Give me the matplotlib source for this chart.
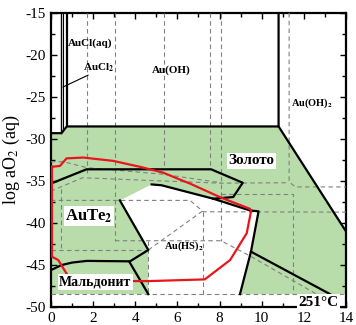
import numpy as np
import matplotlib.pyplot as plt

plt.rcParams['font.family'] = ['Liberation Serif', 'DejaVu Serif']
plt.rcParams['mathtext.fontset'] = 'stix'
plt.rcParams['axes.unicode_minus'] = False

# поле золота (зелёное), pH - log aO2
gold_x = [0, 0.5, 0.75, 10.8, 14, 14, 0]
gold_y = [-29.3, -29.3, -28.5, -28.5, -41, -48.45, -48.45]

# поле Au(HS)2 (белое)
hs_x = [3.27, 4.78, 5.25, 7.7, 9.45, 9.85, 9.49, 8.97, 4.62, 4.62]
hs_y = [-37.3, -35.4, -35.5, -37.1, -38.5, -38.6, -43.4, -48.45, -48.45, -43.2]

# сплошные границы
top_x = [0, 0.5, 0.75, 10.8, 10.8]
top_y = [-29.3, -29.3, -28.5, -28.5, -15]
oh2_x = [10.8, 14]
oh2_y = [-28.5, -41]
cl_x = [0.475, 0.585, 0.745]
cl_bottom = [-29.3, -29.1, -28.5]
aute_x = [0, 1.69, 7.6, 9.1, 8.65, 7.7]
aute_y = [-35.3, -33.6, -33.6, -35.2, -36.9, -37.1]
hs_left_x = [3.27, 4.62, 3.72, 4.62]
hs_left_y = [-37.3, -43.2, -44.6, -48.45]
mald_x = [0, 0.5, 1.0, 1.7, 3.72]
mald_y = [-45.6, -45.0, -44.7, -44.5, -44.55]
low_x = [9.49, 13.24]
low_y = [-43.4, -48.45]

# красная линия
red_x = [0.05, 0.43, 0.74, 1.53, 2.96, 4.22, 5.33, 6.1, 6.6, 8.1, 9.44, 9.5,
         9.29, 8.5, 7.3, 4.7, 1.0, 0.74, 0.35, 0.05, 0.05]
red_y = [-33.3, -33.2, -32.3, -32.2, -32.6, -33.3, -34.0, -34.8, -35.3, -37.0, -38.3, -38.5,
         -41.2, -44.4, -46.7, -46.9, -46.9, -46.0, -44.4, -44.0, -33.3]

# пунктир (второй вариант диаграммы)
dashed = [
    ([1.72, 1.72], [-15, -34.4]),
    ([3.04, 3.04], [-15, -42.1]),
    ([5.36, 5.36], [-15, -33.6]),
    ([7.55, 7.55], [-15, -33.6]),
    ([8.07, 8.07], [-15, -42.1]),
    ([11.3, 11.3, 11.6, 14], [-15, -35.1, -35.7, -35.7]),
    ([0, 1.5, 4.4, 8.07, 11.3], [-36.2, -34.6, -34.9, -35.25, -35.2]),
    ([0, 0.6, 1.7, 5.36, 8.07], [-32.7, -32.7, -33.4, -34.2, -35.2]),
    ([8.07, 11.5, 11.5], [-36.5, -36.5, -48.45]),
    ([0, 6.6, 7.23, 14], [-37.3, -37.3, -38.65, -38.7]),
    ([7.23, 7.23], [-38.65, -48.45]),
    ([0, 14], [-48.45, -48.45]),
    ([0.5, 0.5], [-36.0, -43.2]),
    ([0, 4.62], [-43.2, -43.2]),
    ([4.62, 4.62], [-42.1, -48.45]),
    ([4.62, 7.23], [-43.2, -38.5]),
    ([3.04, 8.07, 9.44, 12.6], [-42.1, -42.1, -43.9, -48.45]),
]

green = '#b9dcab'

fig, ax = plt.subplots(figsize=(3.56, 3.25), dpi=100)
fig.subplots_adjust(left=0.143, right=0.972, top=0.96, bottom=0.055)

ax.fill(gold_x, gold_y, color=green, lw=0, zorder=1)
ax.fill(hs_x, hs_y, color='white', lw=0, zorder=2)

for dx, dy in dashed:
    ax.plot(dx, dy, color='#808080', ls=(0, (4, 3)), lw=0.8, zorder=3)

lw = 1.6
ax.plot(top_x, top_y, 'k-', lw=lw, zorder=4)
ax.plot(oh2_x, oh2_y, 'k-', lw=lw, zorder=4)
for cx, cb, w in zip(cl_x, cl_bottom, [1.0, 0.8, 1.6]):
    ax.plot([cx, cx], [-15, cb], 'k-', lw=w, zorder=4)
ax.plot(aute_x, aute_y, 'k-', lw=lw, zorder=4)
ax.plot(hs_x[1:8], hs_y[1:8], 'k-', lw=lw, zorder=4)
ax.plot(hs_left_x, hs_left_y, 'k-', lw=lw, zorder=4)
ax.plot(mald_x, mald_y, 'k-', lw=lw, zorder=4)
ax.plot(low_x, low_y, 'k-', lw=lw, zorder=4)
ax.plot(red_x, red_y, color='#e8161b', lw=1.6, zorder=5)

# подписи
box = dict(facecolor='white', edgecolor='none', pad=1)
ax.text(0.8, -18.6, 'AuCl(aq)', fontsize=8, fontweight='bold', va='center', zorder=6)
ax.text(1.5, -21.5, r'AuCl$_\mathbf{2}$', fontsize=8, fontweight='bold', va='center', zorder=6)
ax.plot([1.76, 0.58], [-22.4, -23.8], 'k-', lw=0.8, zorder=6)
ax.text(5.73, -21.8, 'Au(OH)', fontsize=8, fontweight='bold', ha='center', va='center')
ax.text(12.4, -25.7, r'Au(OH)$_\mathbf{2}$', fontsize=7.5, fontweight='bold', ha='center', va='center')
ax.text(9.5, -32.6, 'Золото', fontsize=11, fontweight='bold', ha='center', va='center', bbox=box, zorder=6)
ax.text(1.8, -39.2, r'AuTe$_\mathbf{2}$', fontsize=12, fontweight='bold', ha='center', va='center', bbox=box, zorder=6)
ax.text(6.3, -42.8, r'Au(HS)$_\mathbf{2}$', fontsize=7.5, fontweight='bold', ha='center', va='center', zorder=6)
ax.text(2.1, -47.0, 'Мальдонит', fontsize=10, fontweight='bold', ha='center', va='center', bbox=box, zorder=6)
ax.text(12.7, -49.4, '251°C', fontsize=11, fontweight='bold', ha='center', va='center', bbox=box, zorder=6)

ax.set_xlim(0, 14)
ax.set_ylim(-50, -15)
ax.set_xticks(np.arange(0, 15, 2))
ax.set_xticks(np.arange(0, 15, 1), minor=True)
ax.set_yticks(np.arange(-50, -14, 5))
ax.set_yticks(np.arange(-50, -14, 2.5), minor=True)
ax.tick_params(which='both', direction='in', top=True, right=True, labelsize=11, width=1)
ax.tick_params(which='major', length=4)
ax.tick_params(which='minor', length=3)
ax.set_ylabel(r'log aO$_2$ (aq)', fontsize=13, labelpad=3)
for s in ax.spines.values():
    s.set_linewidth(1.6)

plt.savefig('out.png', dpi=100)
